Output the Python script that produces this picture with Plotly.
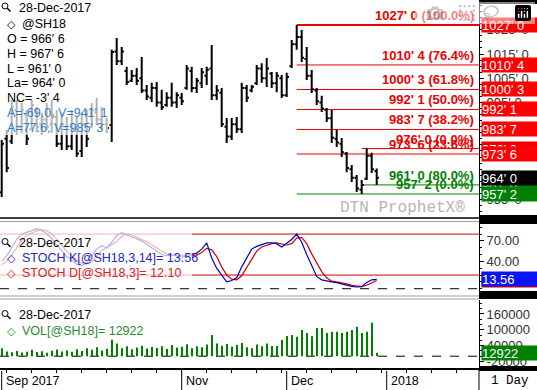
import plotly.graph_objects as go

# ---------------- data ----------------
month_labels = ["Sep 2017", "Nov", "Dec", "2018"]
month_start = [0, 36, 57, 77]          # bar index of first bar of each labelled month

opens = [958.0, 980.0, 979.0, 992.0, 985.0, 990.0, 984.0, 992.0, 986.0, 988.0,
         986.0, 989.0, 978.0, 985.0, 977.0, 984.0, 975.0, 986.0, 985.0, 991.0,
         988.0, 986.0, 985.75, 1016.0, 1012.0, 1008.0, 1004.0, 1006.0, 1005.0, 1000.0,
         997.0, 1001.0, 995.0, 994.0, 997.0, 995.0, 997.0, 1001.0, 1008.0, 1001.0,
         1003.0, 1006.0, 1009.0, 998.0, 999.0, 985.0, 981.0, 986.0, 984.0, 1001.0,
         1000.0, 1003.0, 1009.0, 1005.0, 1007.0, 1003.0, 1005.0, 998.0, 1010.0, 1019.0,
         1022.0, 1013.0, 1006.0, 1000.0, 995.0, 992.0, 988.5, 980.0, 978.0, 974.0,
         967.5, 964.0, 959.0, 963.5, 973.0, 966.75]
highs = [979.5, 983.75, 996.0, 996.0, 994.75, 991.875, 996.0, 993.25, 990.75, 994.75,
         996.0, 991.875, 990.75, 989.0, 991.875, 989.0, 990.75, 991.875, 994.75, 996.875,
         993.25, 988.625, 1016.75, 1021.625, 1017.875, 1009.75, 1008.375, 1009.25, 1013.75, 1002.25,
         1003.125, 1003.5, 1000.25, 999.25, 1003.125, 999.25, 998.875, 1010.5, 1009.75, 1005.125,
         1009.25, 1009.75, 1018.75, 1002.25, 1001.0, 988.625, 988.625, 989.0, 1003.125, 1002.25,
         1002.25, 1010.5, 1011.25, 1013.375, 1007.625, 1007.625, 1006.375, 1007.25, 1020.75, 1027.0,
         1024.875, 1017.875, 1008.375, 1001.0, 997.75, 992.75, 991.875, 983.75, 980.375, 974.625,
         969.25, 965.125, 963.0, 976.0, 974.25, 967.75]
lows = [956.0, 966.25, 977.875, 981.625, 982.375, 977.5, 983.75, 982.75, 981.625, 983.75,
        982.375, 976.625, 975.375, 975.375, 975.375, 972.5, 972.5, 976.625, 984.5, 985.75,
        983.75, 982.375, 978.75, 1010.5, 1010.5, 1002.25, 1003.5, 1002.25, 998.875, 996.0,
        995.25, 993.25, 991.875, 993.25, 993.25, 992.75, 994.0, 1000.25, 999.25, 998.875,
        1001.0, 1002.25, 996.0, 996.0, 984.875, 978.25, 979.5, 982.375, 982.375, 995.25,
        999.25, 1002.25, 1003.125, 1001.375, 1001.0, 999.25, 996.875, 997.25, 1009.25, 1016.75,
        1011.75, 1004.25, 998.875, 994.0, 991.125, 987.0, 978.25, 976.625, 972.5, 966.25,
        962.25, 958.125, 957.25, 963.0, 965.875, 961.0]
closes = [978.0, 968.0, 993.0, 985.0, 992.0, 980.0, 994.0, 985.0, 988.0, 985.0,
          990.0, 978.0, 986.0, 977.0, 984.0, 974.0, 986.0, 980.0, 992.0, 988.0,
          986.0, 984.5, 1015.875, 1012.0, 1016.0, 1003.5, 1006.0, 1004.0, 1000.0, 997.5,
          1001.0, 995.0, 993.0, 997.0, 995.0, 998.0, 995.5, 1009.0, 1001.0, 1004.0,
          1007.5, 1008.5, 998.0, 1000.0, 986.0, 981.0, 986.0, 984.0, 1001.0, 997.0,
          1001.5, 1009.0, 1005.0, 1009.0, 1003.0, 1006.0, 998.0, 1005.5, 1019.0, 1022.0,
          1013.5, 1006.0, 1000.5, 995.5, 992.5, 988.5, 980.5, 978.5, 974.5, 968.0,
          964.0, 959.5, 961.0, 973.0, 967.5, 964.0]

stoch_k = [40, 48, 60, 72, 80, 82, 85, 88, 86, 80,
           74, 64, 55, 47, 42, 36, 34, 38, 48, 58,
           63, 60, 68, 78, 82, 79, 75, 72, 70, 65,
           60, 55, 50, 48, 50, 48, 46, 49, 50, 52,
           58, 67, 45, 30, 20, 10, 12, 16, 32, 46,
           58, 62, 64, 67, 67, 66, 61, 66, 72, 80,
           68, 50, 34, 18, 13, 11, 10, 9, 7, 5,
           3.5, 2.5, 3, 9, 13, 13.56]
stoch_d = [35, 40, 49, 60, 71, 78, 82, 85, 86, 85,
           80, 73, 64, 55, 48, 42, 37, 36, 40, 48,
           56, 60, 64, 69, 76, 80, 79, 75, 72, 69,
           65, 60, 55, 51, 49, 49, 48, 48, 48, 49,
           53, 59, 57, 47, 32, 20, 14, 13, 19, 31,
           45, 55, 61, 64, 66, 67, 65, 64, 66, 74,
           75, 66, 51, 38, 25, 16, 11, 10, 9, 7,
           5, 4, 3, 5, 8.5, 12.10]
volume = [30000, 18000, 15000, 20000, 14000, 17000, 24000, 16000, 19000, 13000,
          21000, 25000, 18000, 22000, 17000, 26000, 20000, 30000, 24000, 34000,
          22000, 28000, 62000, 48000, 30000, 38000, 26000, 33000, 40000, 29000,
          35000, 31000, 38000, 27000, 42000, 33000, 36000, 45000, 30000, 38000,
          34000, 44000, 80000, 48000, 40000, 46000, 36000, 42000, 50000, 34000,
          30000, 44000, 38000, 48000, 38600, 38600, 61000, 76500, 80000, 74000,
          99000, 88000, 76000, 107000, 107000, 88000, 93000, 93000, 88000, 93000,
          99000, 112000, 88000, 93000, 127000, 12922]

fib_levels = [1027.0, 1010.5, 1000.375, 992.125, 983.875, 973.75, 957.25]
fib_pcts = [100.0, 76.4, 61.8, 50.0, 38.2, 23.6, 0.0]
fib_start = 59                      # bar of the swing high
fib2_levels = [976.0, 961.0]
fib2_pcts = [0.0, 80.0]
fib2_start = 72                     # bar of the swing low
angle_texts = ["A=-69.0, V=941' 1", "A=77.6, V=985' 3"]
price_ticks = [1025, 1015, 1005, 995, 985, 975, 965, 955]
stoch_ticks = [10, 40, 70]
vol_ticks = [-20000, 40000, 100000, 160000]
date_text = "28-Dec-2017"
symbol = "@SH18"

# ---------------- helpers ----------------
PW, PH = 479, 370          # plot-area size in px
FONT = "Liberation Sans, Arial, sans-serif"
RED, GREEN = "#ee0000", "#008000"


def fmt(p):
    s = "-" if p < 0 else ""
    p = abs(p)
    w = int(p)
    e = int(round((p - w) * 8))
    if e == 8:
        w, e = w + 1, 0
    return f"{s}{w}' {e}"


def fx(px):
    return px / PW


def fy(py):
    return (PH - py) / PH


n = len(closes)
idx = list(range(n))
x_range = [-0.34, 95.46]

fig = go.Figure()

fig.add_trace(go.Ohlc(x=idx, open=opens, high=highs, low=lows, close=closes,
                      increasing=dict(line=dict(color="black", width=2)),
                      decreasing=dict(line=dict(color="black", width=2)),
                      tickwidth=0.45, xaxis="x", yaxis="y", hoverinfo="skip"))
fig.add_trace(go.Scatter(x=idx, y=stoch_d, mode="lines", line=dict(color="#d40000", width=1.2),
                         xaxis="x", yaxis="y2", hoverinfo="skip"))
fig.add_trace(go.Scatter(x=idx, y=stoch_k, mode="lines", line=dict(color="#0000c8", width=1.2),
                         xaxis="x", yaxis="y2", hoverinfo="skip"))
fig.add_trace(go.Bar(x=idx, y=volume, width=0.22, marker=dict(color=GREEN, line=dict(width=0)),
                     xaxis="x", yaxis="y3", hoverinfo="skip"))

axfont = dict(family=FONT, size=13, color="#303030")
common_y = dict(side="right", anchor="x", showgrid=False, zeroline=False, showline=True,
                linecolor="black", linewidth=1, ticks="outside", ticklen=4, tickcolor="black",
                tickfont=axfont, fixedrange=True, automargin=False)

fig.update_layout(
    width=537, height=390, margin=dict(l=0, r=58, t=0, b=20, autoexpand=False),
    paper_bgcolor="white", plot_bgcolor="white", showlegend=False,
    xaxis=dict(range=x_range, anchor="y3", showgrid=False, zeroline=False, showline=True,
               linecolor="black", linewidth=2, showticklabels=False, ticks="outside",
               ticklen=3, tickcolor="black", tickmode="linear", tick0=1, dtick=5,
               rangeslider=dict(visible=False), fixedrange=True, automargin=False),
    yaxis=dict(domain=[fy(217), fy(0)], range=[947.76, 1037.3],
               tickvals=price_ticks, ticktext=[fmt(v) for v in price_ticks],
               minor=dict(dtick=2.5, tick0=955, ticks="outside", ticklen=2, tickcolor="black",
                          showgrid=False),
               **common_y),
    yaxis2=dict(domain=[fy(295), fy(223)], range=[-9.2, 96.2],
                tickvals=stoch_ticks, ticktext=[f"{v:.2f}" for v in stoch_ticks],
                minor=dict(dtick=10, tick0=0, ticks="outside", ticklen=2, tickcolor="black",
                           showgrid=False),
                **common_y),
    yaxis3=dict(domain=[fy(368), fy(300)], range=[-44700, 212900],
                tickvals=vol_ticks, ticktext=[str(v) for v in vol_ticks],
                minor=dict(dtick=20000, tick0=0, ticks="outside", ticklen=2, tickcolor="black",
                           showgrid=False),
                **common_y),
)

shapes = []
anns = []


def line_px(x0, y0, x1, y1, color, width=1, dash=None):
    shapes.append(dict(type="line", xref="paper", yref="paper", x0=fx(x0), x1=fx(x1),
                       y0=fy(y0), y1=fy(y1), line=dict(color=color, width=width, dash=dash),
                       layer="above"))


def rect_px(x0, y0, x1, y1, fill, layer="above"):
    shapes.append(dict(type="rect", xref="paper", yref="paper", x0=fx(x0), x1=fx(x1),
                       y0=fy(y1), y1=fy(y0), fillcolor=fill, line=dict(width=0), layer=layer))


def text_px(x, y, text, color="black", size=12, family=FONT, xanchor="left"):
    anns.append(dict(xref="paper", yref="paper", x=fx(x), y=fy(y), text=text, showarrow=False,
                     xanchor=xanchor, yanchor="middle", font=dict(family=family, size=size, color=color)))


# fib lines (main)
for lv, pct in zip(fib_levels, fib_pcts):
    col = GREEN if pct == 0.0 else RED
    shapes.append(dict(type="line", xref="x", yref="y", x0=fib_start, x1=x_range[1], y0=lv, y1=lv,
                       line=dict(color=col, width=2 if pct == 100.0 else 1), layer="below"))
for lv, pct in zip(fib2_levels, fib2_pcts):
    col = RED if pct == 0.0 else GREEN
    shapes.append(dict(type="line", xref="x", yref="y", x0=fib2_start, x1=x_range[1], y0=lv, y1=lv,
                       line=dict(color=col, width=1), layer="below"))

# stoch reference lines
for lv in (80, 20):
    shapes.append(dict(type="line", xref="paper", yref="y2", x0=0, x1=1, y0=lv, y1=lv,
                       line=dict(color="#d00000", width=1), layer="below"))
shapes.append(dict(type="line", xref="paper", yref="y2", x0=0, x1=1, y0=0, y1=0,
                   line=dict(color="black", width=1, dash="dash"), layer="below"))
shapes.append(dict(type="line", xref="paper", yref="y3", x0=0, x1=1, y0=0, y1=0,
                   line=dict(color="black", width=1, dash="dash"), layer="below"))

# translucent legend backgrounds (make underlying marks pale)
rect_px(0, 0, 108, 135, "rgba(255,255,255,0.7)")
rect_px(0, 224, 192, 282, "rgba(255,255,255,0.7)")

# panel separators
line_px(0, 218, PW, 218, "black", 1.5)
line_px(0, 221.5, PW, 221.5, "#a0a0a0", 1)
line_px(0, 296, PW, 296, "#a0a0a0", 1)
line_px(0, 299, PW, 299, "#a0a0a0", 1)
# right-side black header bars
for y0, y1 in [(0, 4), (215, 224), (291, 299), (366, 371)]:
    rect_px(PW, y0, 537, y1, "black")
line_px(PW, 370, PW, 390, "black", 1)

# date strip separators & labels
for lab, m in zip(month_labels, month_start):
    shapes.append(dict(type="line", xref="x", yref="paper", x0=m, x1=m, y0=fy(390), y1=fy(371),
                       line=dict(color="black", width=1)))
    anns.append(dict(xref="x", yref="paper", x=m, xshift=2, y=fy(381), text=lab, showarrow=False,
                     xanchor="left", yanchor="middle", font=dict(family=FONT, size=12.5, color="black")))
text_px(489, 381, "1 Day", size=12.5, family="Liberation Mono, Courier New, monospace")

# magnifier icons


def magnifier(cy):
    shapes.append(dict(type="circle", xref="paper", yref="paper", x0=fx(2), x1=fx(8),
                       y0=fy(cy + 1.5), y1=fy(cy - 4.5), line=dict(color="black", width=1), layer="above"))
    line_px(7.3, cy + 0.8, 10.5, cy + 4, "black", 1.5)


# main legend
magnifier(7.5)
text_px(17, 7.5, date_text, size=12.5)
text_px(5, 23.5, "◇", size=11)
text_px(20, 23.5, symbol, size=12.5)
nc = closes[-1] - closes[-2]
legend_rows = [f"O = {fmt(opens[-1])}", f"H = {fmt(highs[-1])}", f"L = {fmt(lows[-1])}",
               f"La= {fmt(closes[-1])}", f"NC= {fmt(nc)}"]
for k, t in enumerate(legend_rows):
    text_px(5, 39 + 14.8 * k, t, size=12.5)
for k, t in enumerate(angle_texts):
    text_px(5, 113 + 15 * k, t, color="#2f7fd0", size=12.5)

# stoch legend
magnifier(243)
text_px(17, 243, date_text, size=12.5)
text_px(5, 257.5, "◇", color="#2424c8", size=11)
text_px(20, 257.5, f"STOCH K[{symbol},3,14]= {stoch_k[-1]:.2f}", color="#2424c8", size=12.5)
text_px(5, 273, "◇", color="#dd2020", size=11)
text_px(20, 273, f"STOCH D[{symbol},3]= {stoch_d[-1]:.2f}", color="#dd2020", size=12.5)

# volume legend
magnifier(315)
text_px(17, 315, date_text, size=12.5)
text_px(5, 331, "◇", color="#2a8a2a", size=11)
text_px(20, 331, f"VOL[{symbol}]= {volume[-1]}", color="#2a8a2a", size=12.5)

# watermark
text_px(338, 208, "DTN ProphetX®", color="#b4b4b4", size=16,
        family="Liberation Mono, Courier New, monospace")

# fib labels (sit just above their lines)
for lv, pct in list(zip(fib2_levels, fib2_pcts)):
    col = RED if pct == 0.0 else GREEN
    anns.append(dict(xref="paper", yref="y", x=1, xshift=-3, y=lv, text=f"<b>{fmt(lv)} ({pct:.1f}%)</b>",
                     showarrow=False, xanchor="right", yanchor="bottom", yshift=0,
                     font=dict(family=FONT, size=13, color=col)))
for lv, pct in zip(fib_levels, fib_pcts):
    col = GREEN if pct == 0.0 else RED
    anns.append(dict(xref="paper", yref="y", x=1, xshift=-3, y=lv, text=f"<b>{fmt(lv)} ({pct:.1f}%)</b>",
                     showarrow=False, xanchor="right", yanchor="bottom", yshift=0,
                     font=dict(family=FONT, size=13, color=col)))


def box(yref, val, text, bg):
    anns.append(dict(xref="paper", yref=yref, x=1, xshift=2, y=val, text=text, showarrow=False,
                     xanchor="left", yanchor="middle", align="left", width=56, height=14,
                     borderpad=0, bgcolor=bg, font=dict(family=FONT, size=13, color="white")))


for lv, pct in zip(fib2_levels, fib2_pcts):
    box("y", lv, fmt(lv), RED if pct == 0.0 else GREEN)
for lv, pct in zip(fib_levels, fib_pcts):
    if pct != 0.0:
        box("y", lv, fmt(lv), "#ff0000")
box("y", closes[-1], fmt(closes[-1]), "black")
box("y", fib_levels[-1], fmt(fib_levels[-1]), GREEN)
box("y2", stoch_d[-1], f"{stoch_d[-1]:.2f}", "#e00000")
box("y2", stoch_k[-1], f"{stoch_k[-1]:.2f}", "#0a14f0")
box("y3", volume[-1], str(volume[-1]), GREEN)

fig.update_layout(shapes=shapes, annotations=anns)
fig.write_html("out.html", post_script="document.body.style.margin='0px';document.body.style.padding='0px';")
